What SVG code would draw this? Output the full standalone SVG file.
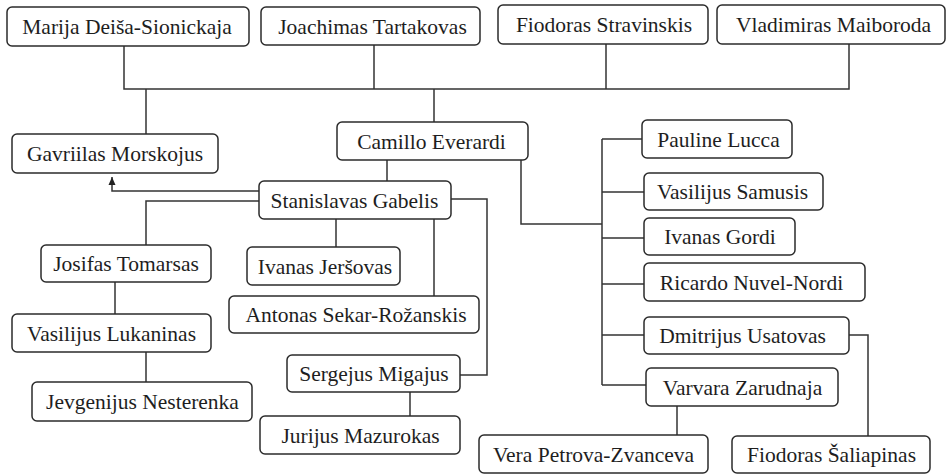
<svg xmlns="http://www.w3.org/2000/svg" width="947" height="475" viewBox="0 0 947 475">
<style>
.box{fill:#fff;stroke:#2b2b2b;stroke-width:1.5}
text{font-family:'Liberation Serif','DejaVu Serif',serif;font-size:21.5px;fill:#1e1e1e;text-anchor:middle}
.c{fill:none;stroke:#333;stroke-width:1.5}
</style>
<defs>
<marker id="arr" markerUnits="userSpaceOnUse" markerWidth="9" markerHeight="9" viewBox="0 0 9 9" refX="8" refY="4.5" orient="auto">
<path d="M0,1 L8,4.5 L0,8 Z" fill="#222"/>
</marker>
</defs>
<rect width="947" height="475" fill="#fff"/>
<g id="connectors">
<path class="c" d="M124 46V89H849V44"/>
<path class="c" d="M374 45V89"/>
<path class="c" d="M606 44V89"/>
<path class="c" d="M434 89V122"/>
<path class="c" d="M146 89V134"/>
<path class="c" d="M387 160V181"/>
<path class="c" d="M259 191H112V177" marker-end="url(#arr)"/>
<path class="c" d="M259 201H146V245"/>
<path class="c" d="M336 219V247"/>
<path class="c" d="M434 219V296"/>
<path class="c" d="M451 199H487V375H460"/>
<path class="c" d="M115 282V314"/>
<path class="c" d="M146 352V382"/>
<path class="c" d="M410 392V416"/>
<path class="c" d="M521 160V224H602"/>
<path class="c" d="M602 139V385"/>
<path class="c" d="M602 139H642M602 192H644M602 238H644M602 284H644M602 335H644M602 385H646"/>
<path class="c" d="M849 335H868V436"/>
<path class="c" d="M677 406V435"/>
</g>
<g font-family="Liberation Serif, serif">
<g id="n-marija"><rect class="box" x="7" y="7" width="242" height="39" rx="5"/><text x="127" y="34">Marija Deiša-Sionickaja</text></g>
<g id="n-joachimas"><rect class="box" x="261" y="7" width="219" height="38" rx="5"/><text x="372.5" y="33.5">Joachimas Tartakovas</text></g>
<g id="n-stravinskis"><rect class="box" x="498" y="5" width="210" height="39" rx="5"/><text x="604" y="32">Fiodoras Stravinskis</text></g>
<g id="n-maiboroda"><rect class="box" x="717" y="5" width="228" height="39" rx="5"/><text x="833.5" y="32">Vladimiras Maiboroda</text></g>
<g id="n-gavriilas"><rect class="box" x="12" y="134" width="206" height="39" rx="5"/><text x="115" y="161">Gavriilas Morskojus</text></g>
<g id="n-camillo"><rect class="box" x="337" y="122" width="191" height="38" rx="5"/><text x="431.5" y="148.5">Camillo Everardi</text></g>
<g id="n-stanislavas"><rect class="box" x="259" y="181" width="192" height="38" rx="5"/><text x="354.5" y="207.5">Stanislavas Gabelis</text></g>
<g id="n-josifas"><rect class="box" x="41" y="245" width="170" height="37" rx="5"/><text x="126" y="271">Josifas Tomarsas</text></g>
<g id="n-jersovas"><rect class="box" x="247" y="247" width="153" height="38" rx="5"/><text x="325" y="273.5">Ivanas Jeršovas</text></g>
<g id="n-antonas"><rect class="box" x="229" y="296" width="250" height="37" rx="5"/><text x="356" y="322">Antonas Sekar-Rožanskis</text></g>
<g id="n-lukaninas"><rect class="box" x="12" y="314" width="199" height="38" rx="5"/><text x="111.5" y="340.5">Vasilijus Lukaninas</text></g>
<g id="n-jevgenijus"><rect class="box" x="32" y="382" width="220" height="39" rx="5"/><text x="142.5" y="409">Jevgenijus Nesterenka</text></g>
<g id="n-sergejus"><rect class="box" x="287" y="355" width="173" height="37" rx="5"/><text x="374" y="381">Sergejus Migajus</text></g>
<g id="n-jurijus"><rect class="box" x="260" y="416" width="200" height="38" rx="5"/><text x="360.5" y="442.5">Jurijus Mazurokas</text></g>
<g id="n-pauline"><rect class="box" x="642" y="120" width="150" height="38" rx="5"/><text x="718.5" y="146.5">Pauline Lucca</text></g>
<g id="n-samusis"><rect class="box" x="644" y="173" width="179" height="37" rx="5"/><text x="732.5" y="199">Vasilijus Samusis</text></g>
<g id="n-gordi"><rect class="box" x="644" y="218" width="151" height="37" rx="5"/><text x="720" y="244">Ivanas Gordi</text></g>
<g id="n-ricardo"><rect class="box" x="644" y="263" width="221" height="38" rx="5"/><text x="751.5" y="289.5">Ricardo Nuvel-Nordi</text></g>
<g id="n-dmitrijus"><rect class="box" x="644" y="317" width="205" height="37" rx="5"/><text x="742.5" y="343">Dmitrijus Usatovas</text></g>
<g id="n-varvara"><rect class="box" x="646" y="368" width="192" height="38" rx="5"/><text x="742.5" y="394.5">Varvara Zarudnaja</text></g>
<g id="n-vera"><rect class="box" x="479" y="435" width="229" height="38" rx="5"/><text x="593.5" y="461.5">Vera Petrova-Zvanceva</text></g>
<g id="n-saliapinas"><rect class="box" x="732" y="436" width="198" height="37" rx="5"/><text x="831.5" y="462">Fiodoras Šaliapinas</text></g>
</g>
</svg>
